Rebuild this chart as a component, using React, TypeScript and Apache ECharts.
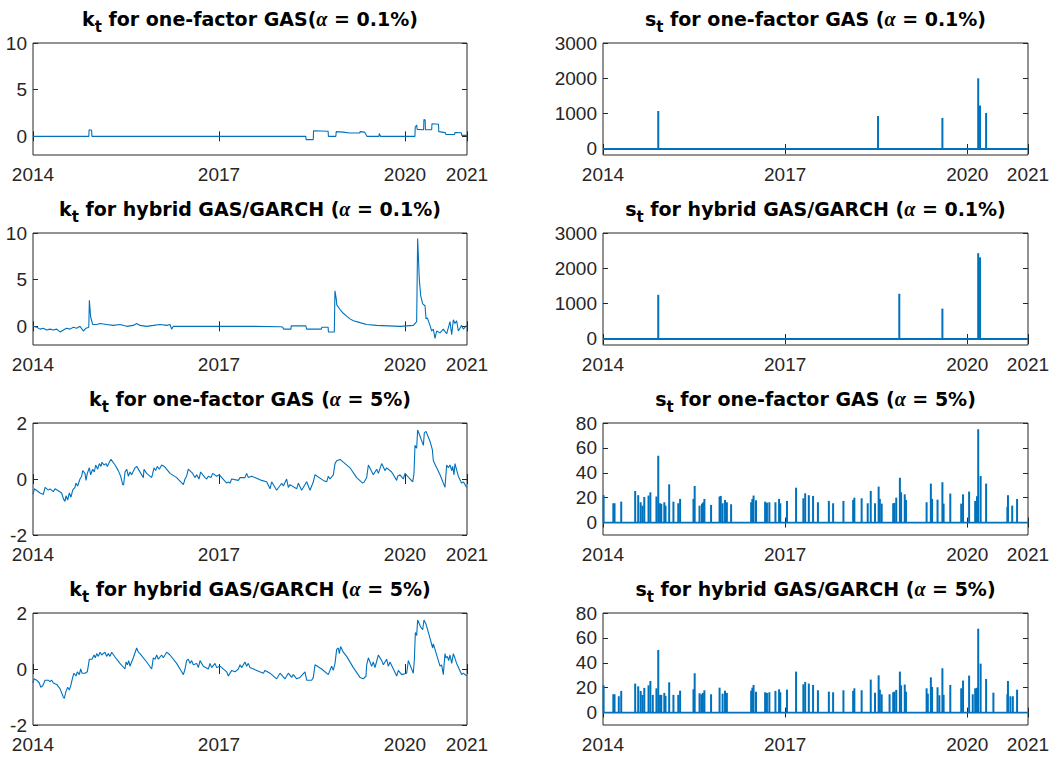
import React, { useEffect, useRef } from 'react';
import * as echarts from 'echarts';

// ---------- tick labels ----------
const X_TICKS = [2014, 2017, 2020, 2021];
const K01_TICKS = [0, 5, 10];
const K5_TICKS = [-2, 0, 2];
const S01_TICKS = [0, 1000, 2000, 3000];
const S5_TICKS = [0, 20, 40, 60, 80];

// ---------- titles ----------
const TITLE_VAR = ['k', 's', 'k', 's', 'k', 's', 'k', 's'];
const TITLE_MID = [
  ' for one-factor GAS(',
  ' for one-factor GAS (',
  ' for hybrid GAS/GARCH (',
  ' for hybrid GAS/GARCH (',
  ' for one-factor GAS (',
  ' for one-factor GAS (',
  ' for hybrid GAS/GARCH (',
  ' for hybrid GAS/GARCH (',
];
const TITLE_ALPHA = ['0.1%', '0.1%', '0.1%', '0.1%', '5%', '5%', '5%', '5%'];

// ---------- series (x = decimal year) ----------
const K_GAS_01 = [
  [2014.0, 0], [2014.9, 0], [2014.905, 0.7], [2014.945, 0.65], [2014.95, 0],
  [2018.4, 0], [2018.405, -0.35], [2018.52, -0.35], [2018.525, 0.6], [2018.76, 0.55], [2018.765, 0],
  [2018.885, 0], [2018.89, 0.5], [2019.0, 0.45], [2019.11, 0.35], [2019.27, 0.35], [2019.275, 0.5],
  [2019.35, 0.45], [2019.385, 0], [2019.58, 0], [2019.585, 0.3], [2019.6, 0.1], [2019.605, 0],
  [2020.16, 0], [2020.165, 1.0], [2020.19, 1.2], [2020.195, 0.75], [2020.3, 0.7], [2020.305, 1.8],
  [2020.325, 1.75], [2020.33, 0.7], [2020.43, 0.7], [2020.435, 1.35], [2020.54, 1.3], [2020.545, 0.5],
  [2020.65, 0.4], [2020.66, 0.2], [2020.8, 0.2], [2020.805, 0.4], [2020.91, 0.38], [2020.915, 0.1],
  [2021.0, 0.1],
];

const K_HYB_01 = [
  [2014.0, 0], [2014.06, -0.1], [2014.113, -0.3], [2014.167, -0.2], [2014.22, -0.4], [2014.274, -0.3],
  [2014.328, -0.4], [2014.382, -0.3], [2014.435, -0.6], [2014.489, -0.4], [2014.543, -0.2],
  [2014.597, -0.3], [2014.651, -0.1], [2014.704, -0.2], [2014.758, 0], [2014.812, -0.5],
  [2014.855, -0.2], [2014.9, -0.1], [2014.909, 2.8], [2014.93, 1.0], [2014.962, 0.2], [2015.027, 0.2],
  [2015.081, 0.3], [2015.188, 0.2], [2015.296, 0.1], [2015.403, 0.2], [2015.511, 0.0], [2015.618, 0.1],
  [2015.672, 0.3], [2015.726, 0.1], [2015.833, 0.0], [2015.941, 0.1], [2016.048, 0.2], [2016.156, 0.1],
  [2016.21, 0.2], [2016.236, -0.3], [2016.263, 0.0], [2017.0, 0.0], [2017.5, 0.0], [2018.0, -0.05],
  [2018.03, -0.1], [2018.04, -0.3], [2018.16, -0.3], [2018.165, 0.05], [2018.4, 0.05], [2018.415, -0.3],
  [2018.65, -0.3], [2018.66, -0.1], [2018.76, -0.1], [2018.765, -0.6], [2018.86, -0.6], [2018.87, 3.8],
  [2018.89, 3.0], [2018.9, 2.3], [2018.952, 1.8], [2019.005, 1.4], [2019.059, 1.1], [2019.113, 0.8],
  [2019.167, 0.6], [2019.274, 0.4], [2019.382, 0.2], [2019.543, 0.1], [2019.92, 0.0], [2020.134, 0.1],
  [2020.161, 0.3], [2020.188, 0.5], [2020.204, 9.4], [2020.231, 5.0], [2020.253, 3.3], [2020.285, 2.4],
  [2020.323, 2.2], [2020.339, 0.8], [2020.36, 0.9], [2020.403, 0.1], [2020.43, -0.5], [2020.457, -0.3],
  [2020.484, -1.3], [2020.511, -0.5], [2020.565, -0.7], [2020.618, -0.3], [2020.672, -0.8],
  [2020.726, 0.5], [2020.753, -0.9], [2020.78, 0.7], [2020.806, 0.3], [2020.833, 0.6], [2020.86, -0.5],
  [2020.887, -0.2], [2020.914, 0.1], [2020.941, -0.3], [2020.995, 0.1],
];

const K_GAS_5 = [
  [2014.0, -0.55], [2014.022, -0.35], [2014.113, -0.5], [2014.167, -0.55], [2014.194, -0.3],
  [2014.247, -0.4], [2014.274, -0.35], [2014.328, -0.45], [2014.355, -0.35], [2014.462, -0.5],
  [2014.489, -0.7], [2014.516, -0.8], [2014.532, -0.6], [2014.559, -0.75], [2014.586, -0.5],
  [2014.613, -0.65], [2014.64, -0.4], [2014.677, -0.3], [2014.694, -0.15], [2014.72, -0.25],
  [2014.758, 0.0], [2014.785, 0.1], [2014.801, 0.3], [2014.839, 0.2], [2014.855, -0.05], [2014.876, 0.2],
  [2014.909, 0.4], [2014.93, 0.15], [2014.962, 0.35], [2014.989, 0.25], [2015.011, 0.5], [2015.043, 0.35],
  [2015.07, 0.55], [2015.097, 0.45], [2015.113, 0.6], [2015.145, 0.5], [2015.177, 0.55], [2015.199, 0.45],
  [2015.231, 0.6], [2015.258, 0.7], [2015.323, 0.5], [2015.376, 0.3], [2015.414, 0.1], [2015.446, -0.2],
  [2015.462, -0.2], [2015.484, 0.25], [2015.511, 0.35], [2015.538, 0.1], [2015.564, 0.25], [2015.591, 0.15],
  [2015.645, 0.4], [2015.672, 0.45], [2015.78, 0.05], [2015.79, 0.35], [2015.833, 0.2], [2015.914, 0.05],
  [2015.952, 0.4], [2015.978, 0.3], [2016.005, 0.45], [2016.038, 0.35], [2016.075, 0.5], [2016.118, 0.45],
  [2016.21, 0.2], [2016.317, 0.05], [2016.425, -0.2], [2016.452, 0.0], [2016.478, 0.1], [2016.505, 0.35],
  [2016.575, 0.2], [2016.613, 0.05], [2016.64, 0.15], [2016.677, 0.0], [2016.704, 0.25], [2016.774, 0.05],
  [2016.801, 0.0], [2016.828, 0.1], [2016.871, 0.05], [2016.898, 0.2], [2016.962, 0.1], [2017.005, 0.15],
  [2017.124, -0.15], [2017.151, -0.1], [2017.177, -0.15], [2017.204, 0.0], [2017.312, -0.05],
  [2017.339, 0.05], [2017.419, 0.05], [2017.446, 0.2], [2017.473, 0.05], [2017.527, 0.1], [2017.688, -0.05],
  [2017.769, -0.1], [2017.823, -0.35], [2017.849, -0.1], [2017.93, -0.4], [2018.011, -0.15],
  [2018.038, -0.25], [2018.091, 0.0], [2018.118, -0.3], [2018.145, -0.2], [2018.253, -0.35],
  [2018.28, -0.15], [2018.333, -0.4], [2018.414, -0.1], [2018.441, -0.25], [2018.468, -0.4],
  [2018.522, -0.1], [2018.548, 0.15], [2018.683, -0.05], [2018.737, -0.1], [2018.763, 0.1], [2018.79, 0.0],
  [2018.844, 0.15], [2018.871, 0.55], [2018.898, 0.65], [2018.952, 0.7], [2019.005, 0.6], [2019.113, 0.4],
  [2019.22, 0.05], [2019.317, -0.15], [2019.344, -0.1], [2019.382, 0.05], [2019.409, 0.5], [2019.489, 0.15],
  [2019.543, 0.35], [2019.57, 0.2], [2019.624, 0.55], [2019.677, 0.3], [2019.704, 0.4], [2019.785, 0.25],
  [2019.866, -0.05], [2019.882, 0.1], [2019.919, 0.15], [2019.973, 0.0], [2020.0, 0.2], [2020.081, 0.0],
  [2020.124, -0.1], [2020.145, 0.2], [2020.161, 1.2], [2020.188, 1.1], [2020.204, 1.75], [2020.231, 1.6],
  [2020.296, 1.2], [2020.312, 1.65], [2020.339, 1.7], [2020.403, 1.35], [2020.441, 1.05], [2020.457, 0.65],
  [2020.565, 0.15], [2020.645, -0.3], [2020.672, 0.5], [2020.699, 0.4], [2020.726, 0.5], [2020.753, 0.3],
  [2020.769, 0.45], [2020.79, 0.15], [2020.806, 0.55], [2020.86, 0.1], [2020.914, -0.15], [2020.941, -0.1],
  [2020.995, -0.3],
];

const K_HYB_5 = [
  [2014.0, -0.5], [2014.016, -0.35], [2014.059, -0.4], [2014.102, -0.5], [2014.124, -0.65],
  [2014.156, -0.6], [2014.177, -0.5], [2014.194, -0.4], [2014.247, -0.4], [2014.274, -0.45],
  [2014.301, -0.4], [2014.328, -0.5], [2014.382, -0.55], [2014.435, -0.7], [2014.489, -1.0],
  [2014.505, -1.05], [2014.532, -0.8], [2014.559, -0.65], [2014.586, -0.75], [2014.608, -0.6],
  [2014.64, -0.3], [2014.661, -0.15], [2014.694, -0.25], [2014.715, -0.1], [2014.747, -0.2],
  [2014.769, 0.0], [2014.79, -0.15], [2014.839, -0.15], [2014.876, -0.1], [2014.909, 0.35],
  [2014.952, 0.35], [2014.984, 0.5], [2015.005, 0.4], [2015.027, 0.55], [2015.054, 0.45], [2015.081, 0.6],
  [2015.107, 0.5], [2015.161, 0.6], [2015.188, 0.45], [2015.215, 0.55], [2015.242, 0.45], [2015.269, 0.6],
  [2015.349, 0.35], [2015.403, 0.2], [2015.484, 0.0], [2015.5, 0.25], [2015.522, 0.15], [2015.543, 0.3],
  [2015.564, 0.1], [2015.618, 0.4], [2015.672, 0.75], [2015.699, 0.6], [2015.726, 0.55], [2015.833, 0.25],
  [2015.914, 0.0], [2015.941, 0.4], [2015.968, 0.35], [2015.995, 0.5], [2016.021, 0.35], [2016.075, 0.5],
  [2016.102, 0.4], [2016.156, 0.6], [2016.21, 0.5], [2016.317, 0.2], [2016.398, -0.1], [2016.425, -0.2],
  [2016.452, 0.0], [2016.478, 0.3], [2016.505, 0.35], [2016.532, 0.2], [2016.559, 0.3], [2016.586, 0.15],
  [2016.64, 0.2], [2016.667, 0.05], [2016.694, 0.3], [2016.747, 0.1], [2016.828, 0.0], [2016.855, 0.2],
  [2016.882, 0.05], [2016.935, 0.2], [2016.962, 0.05], [2017.016, 0.1], [2017.124, -0.1], [2017.151, -0.25],
  [2017.204, -0.05], [2017.258, -0.1], [2017.312, 0.0], [2017.339, 0.15], [2017.366, 0.05], [2017.419, 0.25],
  [2017.446, 0.1], [2017.473, 0.2], [2017.5, 0.05], [2017.608, -0.05], [2017.715, -0.15], [2017.742, -0.05],
  [2017.823, -0.15], [2017.93, -0.35], [2017.984, -0.15], [2018.065, -0.35], [2018.118, -0.15],
  [2018.172, -0.3], [2018.199, -0.2], [2018.253, -0.35], [2018.306, -0.3], [2018.387, -0.1],
  [2018.414, -0.4], [2018.495, -0.4], [2018.522, -0.3], [2018.548, 0.15], [2018.656, 0.0], [2018.763, -0.2],
  [2018.817, 0.1], [2018.844, -0.05], [2018.871, 0.2], [2018.898, 0.7], [2018.925, 0.75], [2018.941, 0.55],
  [2018.962, 0.8], [2019.005, 0.6], [2019.059, 0.45], [2019.167, 0.05], [2019.274, -0.3], [2019.328, -0.35],
  [2019.371, -0.25], [2019.382, 0.15], [2019.409, 0.4], [2019.462, 0.1], [2019.489, 0.25], [2019.516, 0.05],
  [2019.57, 0.5], [2019.624, 0.3], [2019.651, 0.15], [2019.704, 0.35], [2019.731, 0.1], [2019.758, 0.25],
  [2019.866, -0.25], [2019.892, -0.05], [2019.946, -0.2], [2020.027, -0.15], [2020.054, 0.3],
  [2020.134, -0.15], [2020.151, 0.35], [2020.167, 1.3], [2020.188, 1.2], [2020.204, 1.75], [2020.253, 1.5],
  [2020.285, 1.4], [2020.306, 1.75], [2020.339, 1.6], [2020.403, 1.1], [2020.446, 0.75], [2020.457, 0.9],
  [2020.565, 0.1], [2020.591, 0.15], [2020.618, -0.2], [2020.645, 0.55], [2020.661, 0.4], [2020.683, 0.45],
  [2020.704, 0.3], [2020.726, 0.5], [2020.753, 0.2], [2020.78, 0.55], [2020.833, 0.2], [2020.914, -0.2],
  [2020.941, -0.15], [2020.995, -0.25],
];

const S_GAS_01 = [
  [2014.91, 1075], [2018.53, 935], [2019.59, 878], [2020.18, 2000], [2020.21, 1230], [2020.31, 1020],
];

const S_HYB_01 = [
  [2014.91, 1250], [2018.88, 1280], [2019.59, 860], [2020.18, 2430], [2020.21, 2310],
];

const S_GAS_5 = [
  [2014.01, 22], [2014.17, 15.5], [2014.19, 15.5], [2014.3, 16.8], [2014.53, 25.4], [2014.58, 22],
  [2014.62, 16.3], [2014.65, 13.6], [2014.68, 20.6], [2014.75, 21.7], [2014.78, 24.3], [2014.88, 20.9],
  [2014.91, 53.7], [2014.94, 15.5], [2014.96, 15], [2015.01, 16.3], [2015.03, 13.6], [2015.09, 30.7],
  [2015.16, 16.8], [2015.24, 15.5], [2015.27, 19], [2015.49, 19], [2015.51, 29.4], [2015.59, 13.6],
  [2015.63, 15.2], [2015.65, 16.3], [2015.67, 19], [2015.78, 14.2], [2015.92, 20.9], [2015.94, 21.4],
  [2015.97, 15.5], [2016.01, 18.2], [2016.04, 16.3], [2016.11, 14.7], [2016.44, 16.3], [2016.46, 19],
  [2016.48, 21.7], [2016.52, 17.9], [2016.67, 16.8], [2016.7, 16], [2016.74, 16.3], [2016.84, 16.3],
  [2016.9, 19], [2016.92, 15.5], [2017.03, 17.4], [2017.18, 28], [2017.3, 19.5], [2017.33, 23.5],
  [2017.39, 22], [2017.46, 21.4], [2017.54, 16.3], [2017.72, 17.4], [2017.79, 15.5], [2017.96, 17.4],
  [2018.12, 18.2], [2018.14, 20], [2018.26, 19.5], [2018.36, 15.5], [2018.41, 25.4], [2018.48, 15.5],
  [2018.54, 28.9], [2018.56, 19], [2018.59, 15.2], [2018.78, 15.5], [2018.8, 15.8], [2018.83, 20],
  [2018.89, 36], [2018.91, 24.3], [2018.97, 22.7], [2018.99, 18.2], [2019.33, 16.3], [2019.4, 31.3],
  [2019.42, 19], [2019.51, 18.4], [2019.59, 32.4], [2019.61, 15.2], [2019.72, 23.3], [2019.9, 15.2],
  [2019.93, 22.7], [2020.03, 24.9], [2020.13, 17.4], [2020.16, 21.1], [2020.18, 75], [2020.22, 37.4],
  [2020.31, 31.3], [2020.66, 12.6], [2020.67, 22], [2020.74, 13.6], [2020.82, 19],
];

const S_HYB_5 = [
  [2014.01, 21.9], [2014.17, 14.7], [2014.19, 14.7], [2014.26, 13.1], [2014.3, 17.4], [2014.53, 23.3],
  [2014.58, 21.1], [2014.62, 17.4], [2014.65, 14.2], [2014.68, 19.8], [2014.75, 21.9], [2014.78, 25.4],
  [2014.82, 14.2], [2014.88, 19.5], [2014.91, 50.3], [2014.94, 14.2], [2014.96, 14.2], [2015.01, 15.8],
  [2015.03, 13.4], [2015.09, 24.3], [2015.16, 14.2], [2015.24, 14.2], [2015.27, 17.6], [2015.49, 18.7],
  [2015.51, 31.6], [2015.59, 15.5], [2015.62, 14.7], [2015.645, 15.8], [2015.67, 17.9], [2015.78, 14.7],
  [2015.92, 20], [2015.97, 15.2], [2016.01, 17.6], [2016.04, 15.8], [2016.44, 17.6], [2016.46, 20],
  [2016.48, 22.2], [2016.52, 16.8], [2016.67, 16.3], [2016.7, 15.8], [2016.74, 16.3], [2016.84, 17.4],
  [2016.9, 18.7], [2016.92, 16.3], [2017.03, 18.4], [2017.18, 32.9], [2017.3, 22.7], [2017.33, 24.6],
  [2017.39, 23.3], [2017.46, 22.2], [2017.54, 17.9], [2017.72, 16.8], [2017.79, 16.3], [2017.96, 17.9],
  [2018.12, 17.4], [2018.14, 19.5], [2018.26, 17.9], [2018.41, 26.5], [2018.48, 16], [2018.54, 29.9],
  [2018.56, 18.4], [2018.59, 14.7], [2018.72, 14.7], [2018.78, 16.3], [2018.8, 16.8], [2018.83, 18.2],
  [2018.89, 32.9], [2018.91, 21.9], [2018.97, 22.5], [2018.99, 16.8], [2019.33, 19.5], [2019.35, 15.2],
  [2019.4, 28.3], [2019.42, 20.6], [2019.51, 20.3], [2019.54, 13.9], [2019.59, 35.6], [2019.61, 14.2],
  [2019.72, 22.2], [2019.9, 19.5], [2019.93, 25.7], [2020.03, 29.7], [2020.09, 14.7], [2020.13, 19.5],
  [2020.16, 20], [2020.18, 67.4], [2020.22, 39.3], [2020.31, 27], [2020.43, 16], [2020.66, 14.7],
  [2020.67, 25.4], [2020.71, 13.1], [2020.75, 13.1], [2020.82, 18.4],
];

// zero line for the spike panels, spanning the sample
const S_BASELINE = [[2014, 0], [2021, 0]];

// ---------- layout & style ----------
const FONT = 'Liberation Sans, Arial, Helvetica, sans-serif';
const TITLE_FONT = '"DejaVu Sans", "Liberation Sans", sans-serif';
const ALPHA_FONT = '"Liberation Serif", "DejaVu Serif", serif';
const LINE_COLOR = '#0072BD';
const AXIS_COLOR = '#262626';
const COL_LEFT = [33, 603];
const COL_WIDTH = [434, 425];
const ROW_TOP = [43, 233, 423, 613];
const PLOT_H = 112;
const TITLE_MID_Y = 18.5; // vertical centre of title caps above each row
const SUB_DY = 8;

const PANELS = [
  { kind: 'line', data: K_GAS_01, min: -2, max: 10, ticks: K01_TICKS },
  { kind: 'bar', data: S_GAS_01, min: -170, max: 3000, ticks: S01_TICKS },
  { kind: 'line', data: K_HYB_01, min: -2, max: 10, ticks: K01_TICKS },
  { kind: 'bar', data: S_HYB_01, min: -170, max: 3000, ticks: S01_TICKS },
  { kind: 'line', data: K_GAS_5, min: -2, max: 2, ticks: K5_TICKS },
  { kind: 'bar', data: S_GAS_5, min: -10, max: 80, ticks: S5_TICKS },
  { kind: 'line', data: K_HYB_5, min: -2, max: 2, ticks: K5_TICKS },
  { kind: 'bar', data: S_HYB_5, min: -10, max: 80, ticks: S5_TICKS },
];

function buildTitles() {
  const canvas = document.createElement('canvas');
  const ctx = canvas.getContext('2d')!;
  const fMain = `bold 19px ${TITLE_FONT}`;
  const fSub = `bold 15px ${TITLE_FONT}`;
  const fAlpha = `italic bold 20px ${ALPHA_FONT}`;
  const els: any[] = [];
  PANELS.forEach((_, i) => {
    const row = Math.floor(i / 2);
    const col = i % 2;
    const cx = COL_LEFT[col] + COL_WIDTH[col] / 2;
    const cy = TITLE_MID_Y + row * 190;
    const parts = [
      { t: TITLE_VAR[i], f: fMain, dy: 0 },
      { t: 't', f: fSub, dy: SUB_DY },
      { t: TITLE_MID[i], f: fMain, dy: 0 },
      { t: 'α', f: fAlpha, dy: 0 },
      { t: ` = ${TITLE_ALPHA[i]})`, f: fMain, dy: 0 },
    ];
    const widths = parts.map((p) => {
      ctx.font = p.f;
      return ctx.measureText(p.t).width;
    });
    const total = widths.reduce((a, b) => a + b, 0);
    let x = cx - total / 2;
    parts.forEach((p, j) => {
      els.push({
        type: 'text',
        x,
        y: cy + p.dy,
        silent: true,
        style: {
          text: p.t,
          font: p.f,
          fill: '#000',
          textAlign: 'left',
          textVerticalAlign: 'middle',
          verticalAlign: 'middle',
        },
      });
      x += widths[j];
    });
  });
  return els;
}

function buildOption() {
  const grid: any[] = [];
  const xAxis: any[] = [];
  const yAxis: any[] = [];
  const series: any[] = [];

  PANELS.forEach((p, i) => {
    const row = Math.floor(i / 2);
    const col = i % 2;
    grid.push({
      left: COL_LEFT[col],
      top: ROW_TOP[row],
      width: COL_WIDTH[col],
      height: PLOT_H,
      show: true,
      borderColor: AXIS_COLOR,
      borderWidth: 1,
      backgroundColor: '#fff',
      containLabel: false,
    });
    const xBase = {
      type: 'value',
      gridIndex: i,
      min: 2014,
      max: 2021,
      axisLine: { show: false },
      splitLine: { show: false },
      axisTick: { show: true, inside: true, length: 5, customValues: X_TICKS, lineStyle: { color: AXIS_COLOR } },
    };
    xAxis.push({
      ...xBase,
      position: 'bottom',
      axisLabel: {
        show: true,
        customValues: X_TICKS,
        formatter: (v: number) => String(v),
        fontSize: 19,
        lineHeight: 19,
        fontFamily: FONT,
        color: AXIS_COLOR,
        margin: 10,
        showMinLabel: true,
        showMaxLabel: true,
      },
    });
    xAxis.push({ ...xBase, position: 'top', axisLabel: { show: false } });

    const yBase = {
      type: 'value',
      gridIndex: i,
      min: p.min,
      max: p.max,
      axisLine: { show: false },
      splitLine: { show: false },
      axisTick: { show: true, inside: true, length: 5, customValues: p.ticks, lineStyle: { color: AXIS_COLOR } },
    };
    yAxis.push({
      ...yBase,
      position: 'left',
      axisLabel: {
        show: true,
        customValues: p.ticks,
        formatter: (v: number) => String(v),
        fontSize: 19,
        lineHeight: 15,
        fontFamily: FONT,
        color: AXIS_COLOR,
        margin: 6,
        showMinLabel: true,
        showMaxLabel: true,
      },
    });
    yAxis.push({ ...yBase, position: 'right', axisLabel: { show: false } });

    if (p.kind === 'line') {
      series.push({
        type: 'line',
        xAxisIndex: 2 * i,
        yAxisIndex: 2 * i,
        data: p.data,
        symbol: 'none',
        showSymbol: false,
        lineStyle: { width: 1.1, color: LINE_COLOR },
        clip: true,
      });
    } else {
      series.push({
        type: 'line',
        xAxisIndex: 2 * i,
        yAxisIndex: 2 * i,
        data: S_BASELINE,
        symbol: 'none',
        showSymbol: false,
        lineStyle: { width: 1.8, color: LINE_COLOR },
        clip: true,
      });
      series.push({
        type: 'bar',
        xAxisIndex: 2 * i,
        yAxisIndex: 2 * i,
        data: p.data,
        barWidth: 2,
        itemStyle: { color: LINE_COLOR },
        clip: true,
      });
    }
  });

  return { animation: false, backgroundColor: '#fff', grid, xAxis, yAxis, series, graphic: buildTitles() };
}

export default function App() {
  const ref = useRef<HTMLDivElement>(null);
  useEffect(() => {
    const chart = echarts.init(ref.current!, null, { renderer: 'svg' });
    chart.setOption(buildOption() as any);
    return () => chart.dispose();
  }, []);
  return (
    <div
      ref={ref}
      style={{ position: 'absolute', left: 0, top: 0, width: 1062, height: 757, background: '#fff' }}
    />
  );
}
